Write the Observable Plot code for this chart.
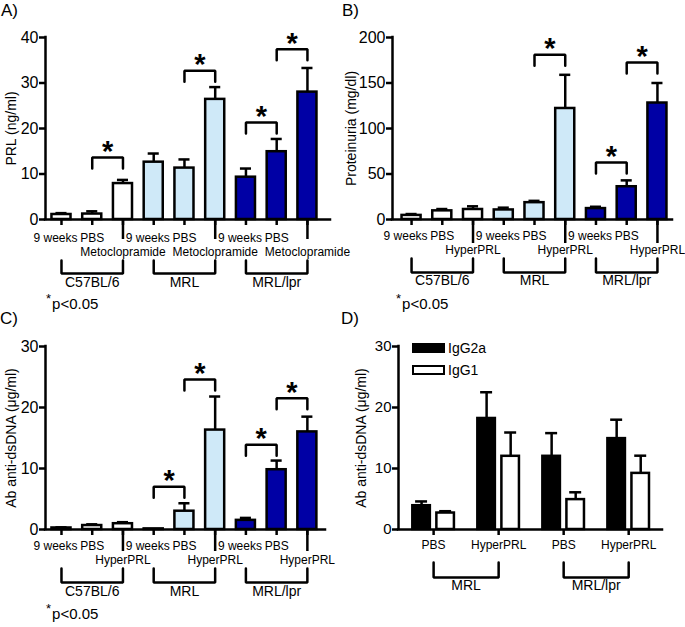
<!DOCTYPE html>
<html>
<head>
<meta charset="utf-8">
<script src="https://cdn.jsdelivr.net/npm/d3@7"></script>
<script src="https://cdn.jsdelivr.net/npm/@observablehq/plot@0.6"></script>
<style>
  body { margin: 0; background: #fff; }
  #fig { position: relative; width: 685px; height: 627px; overflow: hidden; background: #fff;
         font-family: "Liberation Sans", Arial, Helvetica, sans-serif; color: #000; }
  #fig svg { position: absolute; overflow: visible; }
  .abs { position: absolute; white-space: nowrap; line-height: 1; }
  .letter { font-size: 17px; }
  .pnote { font-size: 15px; }
  .pnote .star { font-size: 13px; position: relative; top: -6px; margin-right: 1px; }
  .leg-box { position: absolute; box-sizing: border-box; }
  .leg-txt { font-size: 14px; }
</style>
</head>
<body>
<div id="fig"></div>
<script>
// ---------------- data ----------------
const strains = ["C57BL/6", "MRL", "MRL/lpr"];
const strainColors = ["#ffffff", "#cfe9f8", "#0000a5"];
const groupsA = ["9 weeks", "PBS", "Metoclopramide"];
const groupsBC = ["9 weeks", "PBS", "HyperPRL"];

// A) PRL (ng/ml)
const prlMean = [1.1, 1.2, 7.9, 12.6, 11.3, 26.4, 9.3, 14.9, 28.0];
const prlErr  = [0.3, 0.6, 0.8, 1.9, 1.9, 2.7, 1.9, 2.8, 5.3];
// B) Proteinuria (mg/dl)
const protMean = [4.5, 9.5, 11.0, 10.5, 18.5, 122, 12.0, 36, 128];
const protErr  = [1.5, 2.0, 3.5, 2.5, 2.0, 37, 2.0, 7, 22];
// C) Ab anti-dsDNA (ug/ml)
const dnaMean = [0.25, 0.65, 0.95, 0.1, 3.0, 16.3, 1.5, 9.8, 16.0];
const dnaErr  = [0.1, 0.2, 0.25, 0, 1.3, 5.5, 0.4, 1.5, 2.5];
// D) isotypes
const strainsD = ["MRL", "MRL/lpr"];
const treatD = ["PBS", "HyperPRL"];
const isotypes = ["IgG2a", "IgG1"];
const isoColors = ["#000000", "#ffffff"];
const igg2aMean = [3.9, 18.2, 12.0, 14.9];
const igg2aErr  = [0.7, 4.3, 3.8, 3.1];
const igg1Mean  = [2.7, 12.0, 4.9, 9.2];
const igg1Err   = [0.3, 3.9, 1.2, 2.9];

// significance brackets: [bar a, bar b, bracket level in data units]
const sigA = [[1, 2, 13.6], [4, 5, 32.7], [6, 7, 21.3], [7, 8, 37.4]];
const sigB = [[4, 5, 181], [6, 7, 62.6], [7, 8, 172.5]];
const sigC = [[3, 4, 7.0], [4, 5, 24.6], [6, 7, 13.9], [7, 8, 21.5]];

// ---------------- helpers ----------------
const FONT = '"Liberation Sans", Arial, Helvetica, sans-serif';
const SW = 2.5;
const fig = document.getElementById("fig");

function rowsABC(groups, mean, err) {
  return mean.map((m, i) => ({x: i, strain: strains[Math.floor(i / 3)], group: groups[i % 3], mean: m, err: err[i]}));
}
const rowsD = [];
strainsD.forEach((s, si) => treatD.forEach((t, ti) => {
  const g = si * 2 + ti;
  rowsD.push({x: g - 0.185, g, strain: s, group: t, iso: isotypes[0], mean: igg2aMean[g], err: igg2aErr[g]});
  rowsD.push({x: g + 0.185, g, strain: s, group: t, iso: isotypes[1], mean: igg1Mean[g], err: igg1Err[g]});
}));

function buildPanel(c) {
  const fh = c.height - c.mt - c.mb;
  const pu = px => px * c.yMax / fh; // pixel offset -> y units
  const marks = [];
  // bars
  marks.push(Plot.rect(c.rows, {
    x1: d => d.x - c.hw, x2: d => d.x + c.hw, y1: 0, y2: "mean",
    fill: c.fillKey, stroke: "black", strokeWidth: SW
  }));
  // error bars (upper only)
  const er = c.rows.filter(d => d.err > 0);
  marks.push(Plot.ruleX(er, {x: "x", y1: "mean", y2: d => d.mean + d.err, strokeWidth: SW}));
  marks.push(Plot.ruleY(er, {y: d => d.mean + d.err, x1: d => d.x - c.cw, x2: d => d.x + c.cw, strokeWidth: SW}));
  // axes lines
  marks.push(Plot.ruleY([0], {strokeWidth: SW, strokeLinecap: "square"}));
  marks.push(Plot.ruleX([c.xDomain[0]], {y1: 0, y2: c.yMax, strokeWidth: SW, strokeLinecap: "square"}));
  marks.push(Plot.axisY({ticks: c.yTicks, tickSize: 6, tickPadding: 1, fontSize: c.tickFont,
    strokeWidth: SW, label: null, tickFormat: d3.format("d")}));
  marks.push(Plot.text([c.yLabel], {text: d => d, frameAnchor: "left", textAnchor: "middle",
    rotate: -90, dx: c.labelDx, fontSize: 14}));
  // x ticks
  marks.push(Plot.ruleX(c.tickX, {x: d => d, y1: 0, y2: -pu(6), strokeWidth: SW}));
  if (c.longX.length) marks.push(Plot.ruleX(c.longX, {x: d => d, y1: 0, y2: -pu(c.longLen), strokeWidth: SW}));
  // x labels
  for (const L of c.labels) {
    marks.push(Plot.text(L.data, {x: "x", y: 0, text: "text", dy: L.dy, dx: L.dx || 0, fontSize: 12}));
  }
  // group brackets
  const gpts = c.groups.flatMap((g, k) => [
    {k, x: g.a, y: -pu(c.brT)}, {k, x: g.a, y: -pu(c.brB)},
    {k, x: g.b, y: -pu(c.brB)}, {k, x: g.b, y: -pu(c.brT)}]);
  marks.push(Plot.line(gpts, {x: "x", y: "y", z: "k", strokeWidth: SW, strokeLinejoin: "miter"}));
  marks.push(Plot.text(c.groups, {x: g => (g.a + g.b) / 2, y: 0, text: "label", dy: c.groupDy, fontSize: 14}));
  // significance brackets
  if (c.sig) {
    const leg = pu(11);
    const spts = c.sig.flatMap(([a, b, L], k) => [
      {k, x: a, y: L - leg}, {k, x: a, y: L}, {k, x: b, y: L}, {k, x: b, y: L - leg}]);
    marks.push(Plot.line(spts, {x: "x", y: "y", z: "k", strokeWidth: SW, strokeLinejoin: "miter"}));
    marks.push(Plot.text(c.sig, {x: d => (d[0] + d[1]) / 2, y: d => d[2], text: () => "*",
      fontSize: 29, fontWeight: "bold", dy: -6}));
  }
  const svg = Plot.plot({
    width: c.width, height: c.height,
    marginTop: c.mt, marginRight: c.mr, marginBottom: c.mb, marginLeft: c.ml,
    x: {type: "linear", domain: c.xDomain, axis: null},
    y: {type: "linear", domain: [0, c.yMax]},
    color: {domain: c.colorDomain, range: c.colorRange},
    style: {fontFamily: FONT, background: "transparent", color: "black", overflow: "visible"},
    marks
  });
  svg.style.left = c.left + "px";
  svg.style.top = c.top + "px";
  fig.appendChild(svg);
}

function labelsABC(groups) {
  const idx = [0, 1, 2, 3, 4, 5, 6, 7, 8];
  return [
    {data: idx.filter(i => i % 3 === 0).map(i => ({x: i, text: groups[0]})), dx: -6, row: 1},
    {data: idx.filter(i => i % 3 === 1).map(i => ({x: i, text: groups[1]})), row: 1},
    {data: idx.filter(i => i % 3 === 2).map(i => ({x: i, text: groups[2]})), row: 2}
  ];
}
const groupsABC = strains.map((s, k) => ({a: k * 3, b: k * 3 + 2, label: s}));

function withDy(labels, r1, r2) {
  return labels.map(L => ({...L, dy: L.row === 1 ? r1 : r2}));
}

// A
buildPanel({
  left: 0, top: 0, width: 340, height: 310, mt: 37, mr: 10, mb: 91, ml: 45,
  xDomain: [-0.52, 8.75], yMax: 40, yTicks: [0, 10, 20, 30, 40], tickFont: 16,
  yLabel: "PRL (ng/ml)", labelDx: -34,
  rows: rowsABC(groupsA, prlMean, prlErr), fillKey: "strain", colorDomain: strains, colorRange: strainColors,
  hw: 0.31, cw: 0.18, sig: sigA,
  tickX: d3.range(9), longX: [2, 5, 8], longLen: 20,
  labels: withDy(labelsABC(groupsA), 19, 33),
  groups: groupsABC, brT: 41, brB: 54, groupDy: 63
});
// B
buildPanel({
  left: 340, top: 0, width: 345, height: 310, mt: 37, mr: 13, mb: 91, ml: 52,
  xDomain: [-0.62, 8.49], yMax: 200, yTicks: [0, 50, 100, 150, 200], tickFont: 16,
  yLabel: "Proteinuria (mg/dl)", labelDx: -41,
  rows: rowsABC(groupsBC, protMean, protErr), fillKey: "strain", colorDomain: strains, colorRange: strainColors,
  hw: 0.31, cw: 0.18, sig: sigB,
  tickX: d3.range(9), longX: [2, 5, 8], longLen: 24,
  labels: withDy(labelsABC(groupsBC), 17, 31),
  groups: groupsABC, brT: 39, brB: 53, groupDy: 61
});
// C
buildPanel({
  left: 0, top: 310, width: 340, height: 317, mt: 36, mr: 15, mb: 98, ml: 45,
  xDomain: [-0.52, 8.59], yMax: 30, yTicks: [0, 10, 20, 30], tickFont: 16,
  yLabel: "Ab anti-dsDNA (μg/ml)", labelDx: -34,
  rows: rowsABC(groupsBC, dnaMean, dnaErr), fillKey: "strain", colorDomain: strains, colorRange: strainColors,
  hw: 0.31, cw: 0.18, sig: sigC,
  tickX: d3.range(9), longX: [2, 5, 8], longLen: 22,
  labels: withDy(labelsABC(groupsBC), 17, 31),
  groups: groupsABC, brT: 39, brB: 53, groupDy: 62
});
// D
buildPanel({
  left: 340, top: 310, width: 345, height: 317, mt: 36, mr: 23, mb: 98, ml: 58,
  xDomain: [-0.54, 3.52], yMax: 30, yTicks: [0, 10, 20, 30], tickFont: 15,
  yLabel: "Ab anti-dsDNA (μg/ml)", labelDx: -36.5,
  rows: rowsD, fillKey: "iso", colorDomain: isotypes, colorRange: isoColors,
  hw: 0.135, cw: 0.092, sig: null,
  tickX: d3.range(4), longX: [], longLen: 0,
  labels: [{data: d3.range(4).map(g => ({x: g, text: treatD[g % 2]})), dy: 16}],
  groups: strainsD.map((s, k) => ({a: k * 2, b: k * 2 + 1, label: s})), brT: 33, brB: 48, groupDy: 56
});

// ---------------- panel letters, notes, legend ----------------
function addText(cls, html, left, top) {
  const d = document.createElement("div");
  d.className = "abs " + cls;
  d.innerHTML = html;
  d.style.left = left + "px";
  d.style.top = top + "px";
  fig.appendChild(d);
  return d;
}
addText("letter", "A)", 1, 2);
addText("letter", "B)", 342, 2);
addText("letter", "C)", 0, 310);
addText("letter", "D)", 341, 310);
const pHtml = '<span class="star">*</span>p&lt;0.05';
addText("pnote", pHtml, 46, 296);
addText("pnote", pHtml, 396, 296);
addText("pnote", pHtml, 46, 606);

// legend for D
isotypes.forEach((iso, k) => {
  const box = document.createElement("div");
  box.className = "leg-box";
  box.style.left = "412px";
  box.style.top = (343 + k * 21.5) + "px";
  box.style.width = "33px";
  box.style.height = "10px";
  box.style.background = isoColors[k];
  box.style.border = "2.5px solid #000";
  fig.appendChild(box);
  addText("leg-txt", iso, 448, 341 + k * 21.5);
});
</script>
</body>
</html>
